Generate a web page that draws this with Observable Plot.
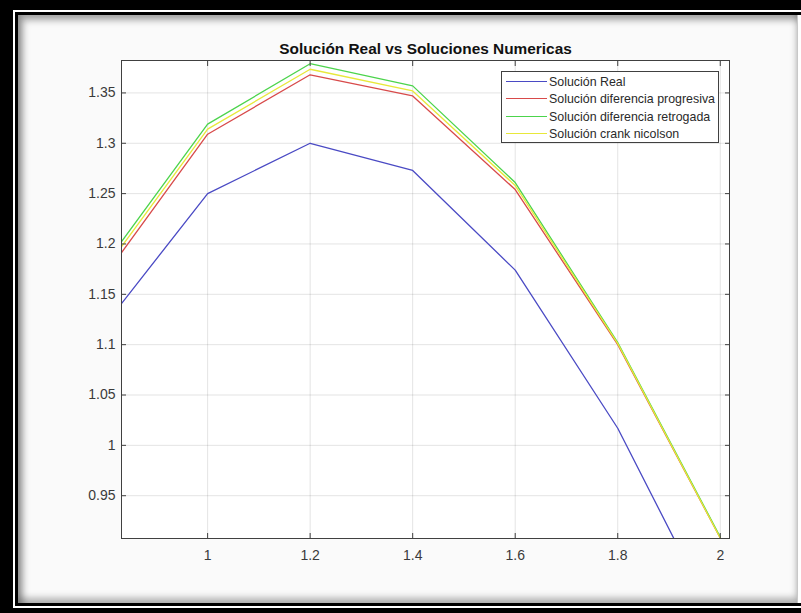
<!DOCTYPE html>
<html>
<head>
<meta charset="utf-8">
<script src="https://cdn.jsdelivr.net/npm/d3@7"></script>
<script src="https://cdn.jsdelivr.net/npm/@observablehq/plot@0.6"></script>
<style>
  html, body { margin: 0; padding: 0; background: #fff; }
  #page { position: relative; width: 801px; height: 613px; overflow: hidden; background: #000;
          font-family: "Liberation Sans", Arial, sans-serif; }
  #ring { position: absolute; left: 13px; top: 10px; right: 0; bottom: 5px; background: #fff; }
  #edge { position: absolute; left: 15px; top: 12px; right: 0; bottom: 7px; background: #fff;
          border-left: 3px solid #000; border-top: 3px solid #000; border-bottom: 3px solid #000; }
  #fig  { position: absolute; left: 0; top: 0; right: 3px; bottom: 0; background: #fafafa;
          border-right: 1px solid #c8c8c8;
          box-shadow: inset 5px 5px 7px rgba(0,0,0,0.35), inset 0 -5px 7px rgba(0,0,0,0.3); }
  #chart { position: absolute; left: 0; top: 0; }
  #legend { position: absolute; left: 501px; top: 71px; width: 216px; height: 70px;
            background: #fff; border: 1px solid #404040; }
  .row { position: absolute; left: 0; height: 16px; width: 100%; }
  .row .swatch { position: absolute; left: 4px; top: 7px; width: 41px; height: 0; border-top: 1.3px solid; }
  .row .name { position: absolute; left: 47px; top: 0; font-size: 12.4px; line-height: 16px; color: #2a2a2a; white-space: nowrap; }
</style>
</head>
<body>
<div id="page">
  <div id="ring"></div>
  <div id="edge"><div id="fig"></div></div>
  <div id="chart"></div>
  <div id="legend"></div>
</div>
<script>
// Sample points of the solution at t = 0.8 ... 2.0
const xs = [0.8, 1.0, 1.2, 1.4, 1.6, 1.8, 2.0];
const solReal        = [1.120, 1.250, 1.300, 1.273, 1.174, 1.017, 0.817];
const solProgresiva  = [1.169, 1.309, 1.368, 1.347, 1.254, 1.100, 0.908];
const solRetrogada   = [1.180, 1.319, 1.379, 1.357, 1.261, 1.102, 0.909];
const solCrank       = [1.175, 1.314, 1.3735, 1.352, 1.258, 1.101, 0.908];

const seriesNames = [
  "Solución Real",
  "Solución diferencia progresiva",
  "Solución diferencia retrogada",
  "Solución crank nicolson"
];
const seriesValues = [solReal, solProgresiva, solRetrogada, solCrank];
const seriesColors = ["#4a4ac4", "#d84a4a", "#4cd44c", "#e8e83a"];

const xTicks = [1, 1.2, 1.4, 1.6, 1.8, 2];
const yTicks = [0.95, 1, 1.05, 1.1, 1.15, 1.2, 1.25, 1.3, 1.35];
const title = "Solución Real vs Soluciones Numericas";

const rows = seriesNames.flatMap((name, i) =>
  xs.map((x, j) => ({series: name, x, y: seriesValues[i][j]})));

const fmt = d => String(+d.toFixed(2));
const axisStyle = {stroke: "#404040", fill: "#3a3a3a", label: null};

const chart = Plot.plot({
  width: 801,
  height: 613,
  marginLeft: 121,
  marginRight: 72,
  marginTop: 60,
  marginBottom: 75,
  style: {background: "transparent", fontFamily: "'Liberation Sans', Arial, sans-serif", fontSize: "14px"},
  x: {domain: [0.832, 2.018], label: null},
  y: {domain: [0.9075, 1.3822], label: null},
  color: {domain: seriesNames, range: seriesColors},
  marks: [
    Plot.frame({fill: "#fff", stroke: null}),
    Plot.gridX(xTicks, {stroke: "#000", strokeOpacity: 0.11}),
    Plot.gridY(yTicks, {stroke: "#000", strokeOpacity: 0.11}),
    ...seriesNames.map(name =>
      Plot.line(rows.filter(d => d.series === name),
        {x: "x", y: "y", stroke: "series", strokeWidth: 1.3, clip: true})),
    Plot.frame({stroke: "#404040", strokeWidth: 1}),
    Plot.axisX(xTicks, {...axisStyle, anchor: "bottom", tickSize: -5, tickPadding: 17, tickFormat: fmt}),
    Plot.axisX(xTicks, {...axisStyle, anchor: "top", tickSize: -5, tickFormat: () => ""}),
    Plot.axisY(yTicks, {...axisStyle, anchor: "left", tickSize: -5, tickPadding: 11, tickFormat: fmt}),
    Plot.axisY(yTicks, {...axisStyle, anchor: "right", tickSize: -5, tickFormat: () => ""}),
    Plot.text([title], {frameAnchor: "top", dy: -7, lineAnchor: "bottom",
      fontWeight: "bold", fontSize: 15.4, fill: "#111"})
  ]
});
document.getElementById("chart").appendChild(chart);

// Legend box in the upper right of the axes
const legend = d3.select("#legend");
seriesNames.forEach((name, i) => {
  const row = legend.append("div").attr("class", "row").style("top", (2 + i * 17.4) + "px");
  row.append("div").attr("class", "swatch").style("border-color", seriesColors[i]);
  row.append("div").attr("class", "name").text(name);
});
</script>
</body>
</html>
